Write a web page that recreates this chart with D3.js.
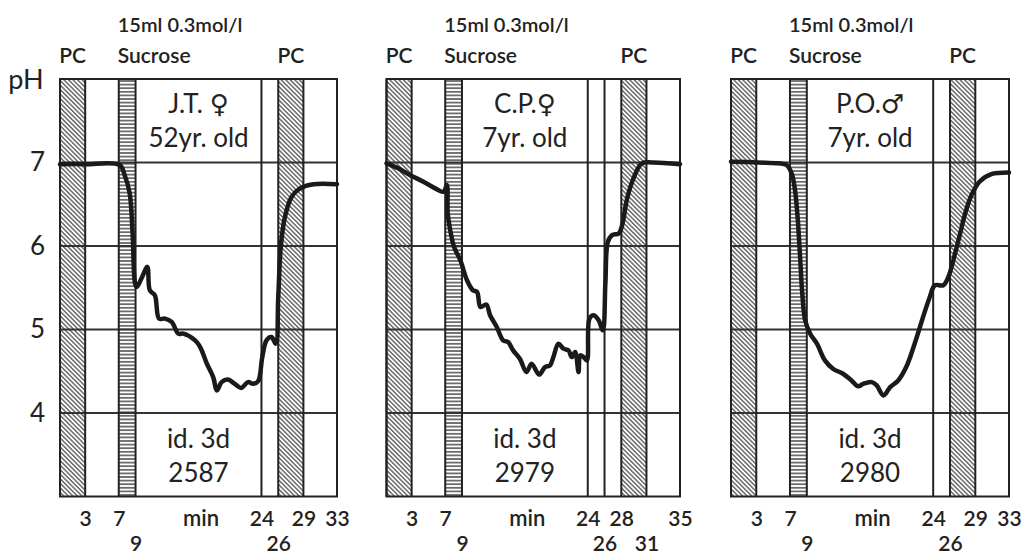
<!DOCTYPE html>
<html>
<head>
<meta charset="utf-8">
<script src="https://cdn.jsdelivr.net/npm/d3@7"></script>
<style>
  body { margin: 0; background: #fff; }
  text { font-family: "Lato", "DejaVu Sans", sans-serif; fill: #222; }
</style>
</head>
<body>
<svg id="viz"></svg>
<script>
var width = 1028;
var height = 556;

// pH readings (time in min) for the three children / adult
var jtTime = [0, 3, 7.1, 7.7, 8.3, 8.65, 8.95, 9.15, 9.7, 10.4, 10.7, 11.3, 11.8, 12.5, 13.3, 14.1, 14.7, 16.1, 16.7, 17.5, 18.25, 18.7, 19.25, 20.0, 20.8, 21.6, 22.4, 23.0, 23.6, 24.1, 24.6, 25.2, 25.7, 26.0, 26.3, 26.8, 27.6, 28.6, 30.2, 33];
var jtPH   = [6.98, 6.98, 6.97, 6.85, 6.63, 6.15, 5.55, 5.51, 5.61, 5.75, 5.47, 5.41, 5.13, 5.13, 5.09, 4.95, 4.95, 4.87, 4.79, 4.59, 4.43, 4.27, 4.37, 4.40, 4.35, 4.30, 4.37, 4.35, 4.38, 4.67, 4.87, 4.91, 4.83, 5.39, 5.99, 6.35, 6.59, 6.69, 6.74, 6.74];

var cpTime = [0, 1.4, 2.8, 4.4, 5.8, 6.8, 7.2, 7.3, 7.6, 8.05, 8.8, 9.6, 10.3, 10.8, 11.2, 11.9, 12.35, 13.15, 13.9, 14.5, 15.1, 15.9, 16.7, 17.3, 18.2, 18.9, 19.5, 19.9, 20.5, 21.1, 21.7, 22.1, 22.5, 22.9, 23.1, 23.5, 23.9, 24.2, 24.7, 25.3, 25.8, 26.1, 26.4, 26.9, 27.7, 28.1, 28.7, 29.45, 30.45, 31.8, 35];
var cpPH   = [6.99, 6.93, 6.85, 6.77, 6.69, 6.65, 6.73, 6.39, 6.19, 5.99, 5.83, 5.59, 5.47, 5.45, 5.27, 5.30, 5.17, 5.03, 4.87, 4.85, 4.75, 4.65, 4.49, 4.59, 4.46, 4.55, 4.57, 4.67, 4.83, 4.77, 4.75, 4.67, 4.73, 4.49, 4.69, 4.67, 4.63, 5.13, 5.17, 5.11, 4.99, 5.55, 6.05, 6.13, 6.15, 6.25, 6.57, 6.81, 6.99, 7.0, 6.98];

var poTime = [0, 3.25, 5.6, 6.6, 7.2, 7.6, 7.9, 8.2, 8.46, 8.8, 9.4, 10.2, 11.15, 12.1, 13.3, 14.3, 15.1, 15.7, 16.7, 17.3, 18.1, 18.9, 19.85, 20.8, 21.8, 22.8, 23.6, 24.2, 25.2, 25.8, 26.6, 27.2, 27.8, 28.55, 29.5, 30.9, 33];
var poPH   = [7.01, 7.0, 6.99, 6.97, 6.87, 6.67, 6.35, 5.87, 5.43, 5.11, 4.95, 4.83, 4.63, 4.53, 4.47, 4.39, 4.32, 4.35, 4.37, 4.33, 4.21, 4.31, 4.39, 4.55, 4.83, 5.15, 5.39, 5.53, 5.53, 5.63, 5.91, 6.15, 6.39, 6.61, 6.77, 6.86, 6.88];

// axis labels
var phTicks = [4, 5, 6, 7];
var jtRow1 = [3, 7, 24, 29, 33], jtRow2 = [9, 26];
var cpRow1 = [3, 7, 24, 28, 35], cpRow2 = [9, 26, 31];
var poRow1 = [3, 7, 24, 29, 33], poRow2 = [9, 26];

var panels = [
  {left: 60, right: 337, tMax: 33, time: jtTime, ph: jtPH, pc: [[0, 3], [26, 29]], sucrose: [7, 9],
   lines: [24], row1: jtRow1, row2: jtRow2, name: "J.T. \u2640", age: "52yr. old", code: "2587"},
  {left: 386.5, right: 680, tMax: 35, time: cpTime, ph: cpPH, pc: [[0, 3], [28, 31]], sucrose: [7, 9],
   lines: [24, 26], row1: cpRow1, row2: cpRow2, name: "C.P.\u2640", age: "7yr. old", code: "2979"},
  {left: 731, right: 1009, tMax: 33, time: poTime, ph: poPH, pc: [[0, 3], [26, 29]], sucrose: [7, 9],
   lines: [24], row1: poRow1, row2: poRow2, name: "P.O.\u2642", age: "7yr. old", code: "2980"}
];

var svg = d3.select("#viz").attr("width", width).attr("height", height);

// hatch patterns
var defs = svg.append("defs");
defs.append("pattern")
    .attr("id", "pcHatch")
    .attr("patternUnits", "userSpaceOnUse")
    .attr("width", 3.2).attr("height", 10)
    .attr("patternTransform", "rotate(-45)")
  .append("line")
    .attr("x1", 1.6).attr("x2", 1.6).attr("y1", 0).attr("y2", 10)
    .attr("stroke", "#333").attr("stroke-width", 1.1);
defs.append("pattern")
    .attr("id", "sucHatch")
    .attr("patternUnits", "userSpaceOnUse")
    .attr("width", 10).attr("height", 3.6)
  .append("line")
    .attr("x1", 0).attr("x2", 10).attr("y1", 1.8).attr("y2", 1.8)
    .attr("stroke", "#333").attr("stroke-width", 1.3);

var y = d3.scaleLinear().domain([3, 8]).range([496.5, 79]);

// pH axis on the left
var yAxis = svg.append("g")
    .attr("transform", "translate(60,0)")
    .call(d3.axisLeft(y).tickValues(phTicks).tickSize(0).tickPadding(15).tickFormat(d3.format("d")));
yAxis.select(".domain").remove();
yAxis.selectAll("text").style("font-size", "26px").style("font-family", "Lato, 'DejaVu Sans', sans-serif").attr("fill", "#222");

svg.append("text").attr("x", 26).attr("y", 89).attr("text-anchor", "middle")
    .style("font-size", "27px").text("pH");

panels.forEach(function(p) {
  var x = d3.scaleLinear().domain([0, p.tMax]).range([p.left, p.right]);
  var g = svg.append("g");

  // bands
  g.selectAll(".pc").data(p.pc).enter().append("rect")
      .attr("x", function(d) { return x(d[0]); })
      .attr("width", function(d) { return x(d[1]) - x(d[0]); })
      .attr("y", y(8)).attr("height", y(3) - y(8))
      .attr("fill", "url(#pcHatch)");
  g.append("rect")
      .attr("x", x(p.sucrose[0])).attr("width", x(p.sucrose[1]) - x(p.sucrose[0]))
      .attr("y", y(8)).attr("height", y(3) - y(8))
      .attr("fill", "url(#sucHatch)");

  // grid
  g.selectAll(".hgrid").data(phTicks).enter().append("line")
      .attr("x1", x(0)).attr("x2", x(p.tMax))
      .attr("y1", function(d) { return y(d); }).attr("y2", function(d) { return y(d); })
      .attr("stroke", "#333").attr("stroke-width", 1.8);

  var vlines = [];
  p.pc.forEach(function(b) { vlines.push(b[0], b[1]); });
  vlines = vlines.concat(p.sucrose, p.lines, [p.tMax]);
  g.selectAll(".vgrid").data(vlines).enter().append("line")
      .attr("x1", function(d) { return x(d); }).attr("x2", function(d) { return x(d); })
      .attr("y1", y(8)).attr("y2", y(3))
      .attr("stroke", "#222").attr("stroke-width", 2);

  g.append("rect")
      .attr("x", x(0)).attr("y", y(8))
      .attr("width", x(p.tMax) - x(0)).attr("height", y(3) - y(8))
      .attr("fill", "none").attr("stroke", "#222").attr("stroke-width", 2);

  // pH curve
  var pts = p.time.map(function(t, i) { return [t, p.ph[i]]; });
  var line = d3.line()
      .x(function(d) { return x(d[0]); })
      .y(function(d) { return y(d[1]); })
      .curve(d3.curveCatmullRom.alpha(0.5));
  g.append("path")
      .datum(pts)
      .attr("d", line)
      .attr("fill", "none")
      .attr("stroke", "#1a1a1a")
      .attr("stroke-width", 4.5)
      .attr("stroke-linejoin", "round")
      .attr("stroke-linecap", "round");

  // labels inside
  var mid = x((p.sucrose[1] + p.lines[0]) / 2);
  [[p.name, 113], [p.age, 147], ["id. 3d", 448], [p.code, 482]].forEach(function(d) {
    g.append("text").attr("x", mid).attr("y", d[1]).attr("text-anchor", "middle")
        .style("font-size", "26px").text(d[0]);
  });

  // top labels
  g.append("text").attr("x", x(p.sucrose[0]) - 1).attr("y", 32)
      .style("font-size", "20px").style("font-weight", 600).text("15ml 0.3mol/l");
  g.append("text").attr("x", x(p.sucrose[0]) - 1).attr("y", 63)
      .style("font-size", "21px").style("font-weight", 600).text("Sucrose");
  g.selectAll(".pclab").data(p.pc).enter().append("text")
      .attr("x", function(d) { return x((d[0] + d[1]) / 2); })
      .attr("y", 63).attr("text-anchor", "middle")
      .style("font-size", "21px").style("font-weight", 600).text("PC");

  // time axis, two rows
  var ax1 = g.append("g").attr("transform", "translate(0," + y(3) + ")")
      .call(d3.axisBottom(x).tickValues(p.row1).tickSize(0).tickPadding(29).tickFormat(d3.format("d")));
  var ax2 = g.append("g").attr("transform", "translate(0," + y(3) + ")")
      .call(d3.axisBottom(x).tickValues(p.row2).tickSize(0).tickPadding(54).tickFormat(d3.format("d")));
  [ax1, ax2].forEach(function(a) {
    a.select(".domain").remove();
    a.selectAll("text").style("font-size", "21px").style("font-weight", 600)
        .style("font-family", "Lato, 'DejaVu Sans', sans-serif")
        .attr("fill", "#222").attr("dy", 0);
  });
  g.append("text").attr("x", x(16.8)).attr("y", 526).attr("text-anchor", "middle")
      .style("font-size", "22px").style("font-weight", 600).text("min");
});
</script>
</body>
</html>
